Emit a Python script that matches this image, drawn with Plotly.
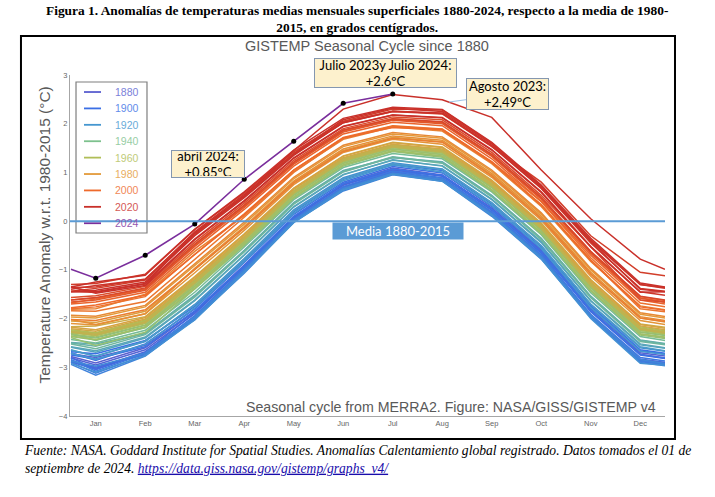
import plotly.graph_objects as go
from plotly.colors import sample_colorscale, find_intermediate_color, hex_to_rgb, label_rgb

# x positions: half-month wrap at both ends, then Jan..Dec
month_pos = [0.5, 1, 2, 3, 4, 5, 6, 7, 8, 9, 10, 11, 12, 12.5]
month_labels = ['Jan', 'Feb', 'Mar', 'Apr', 'May', 'Jun', 'Jul', 'Aug', 'Sep', 'Oct', 'Nov', 'Dec']

# anomaly values (°C, w.r.t. 1980-2015)
y1880 = [-2.78, -2.91, -2.60, -1.86, -0.95, 0.05, 0.77, 1.09, 0.95, 0.25, -0.63, -1.84, -2.73, -2.81]
y1882 = [-2.72, -2.80, -2.55, -1.85, -0.90, 0.08, 0.74, 1.05, 0.93, 0.27, -0.60, -1.80, -2.70, -2.77]
y1885 = [-2.81, -2.95, -2.64, -1.90, -0.93, 0.07, 0.74, 1.06, 0.92, 0.22, -0.66, -1.95, -2.85, -2.90]
y1887 = [-2.86, -3.02, -2.68, -1.98, -1.02, 0.00, 0.68, 1.00, 0.86, 0.16, -0.72, -1.93, -2.83, -2.90]
y1890 = [-2.89, -3.04, -2.70, -2.02, -1.00, -0.02, 0.66, 0.98, 0.84, 0.14, -0.74, -1.97, -2.86, -2.93]
y1892 = [-2.88, -3.00, -2.74, -1.96, -0.99, 0.02, 0.70, 1.01, 0.87, 0.18, -0.70, -1.95, -2.88, -2.95]
y1895 = [-2.80, -3.05, -2.70, -1.88, -0.92, 0.09, 0.76, 1.02, 0.94, 0.24, -0.64, -1.86, -2.75, -2.82]
y1897 = [-2.70, -2.86, -2.52, -1.80, -0.85, 0.14, 0.80, 1.12, 0.99, 0.30, -0.58, -1.78, -2.66, -2.73]
y1900 = [-2.68, -2.72, -2.45, -1.75, -0.80, 0.19, 0.86, 1.17, 1.04, 0.35, -0.53, -1.74, -2.64, -2.71]
y1902 = [-2.75, -2.83, -2.58, -1.84, -0.92, 0.10, 0.77, 1.07, 0.94, 0.24, -0.64, -1.83, -2.74, -2.81]
y1905 = [-2.84, -3.08, -2.72, -1.94, -0.97, 0.04, 0.71, 1.03, 0.89, 0.19, -0.69, -1.91, -2.80, -2.87]
y1907 = [-2.90, -3.12, -2.75, -1.99, -1.03, -0.01, 0.66, 0.97, 0.83, 0.13, -0.75, -1.96, -2.87, -2.94]
y1910 = [-2.94, -3.16, -2.77, -2.01, -1.07, -0.02, 0.62, 0.95, 0.82, 0.10, -0.78, -1.98, -2.90, -2.97]
y1912 = [-2.87, -2.98, -2.71, -1.97, -1.01, 0.01, 0.67, 0.99, 0.86, 0.15, -0.73, -1.94, -2.84, -2.92]
y1915 = [-2.65, -2.77, -2.47, -1.71, -0.77, 0.23, 0.89, 1.20, 1.07, 0.38, -0.50, -1.71, -2.60, -2.67]
y1917 = [-2.92, -3.10, -2.76, -2.03, -1.05, -0.03, 0.64, 0.96, 0.82, 0.12, -0.77, -2.00, -2.92, -2.96]
y1920 = [-2.71, -2.84, -2.53, -1.78, -0.83, 0.16, 0.83, 1.15, 1.01, 0.32, -0.56, -1.77, -2.67, -2.74]
y1922 = [-2.64, -2.78, -2.46, -1.72, -0.78, 0.21, 0.87, 1.18, 1.06, 0.37, -0.51, -1.70, -2.58, -2.66]
y1925 = [-2.59, -2.69, -2.40, -1.63, -0.70, 0.29, 0.95, 1.26, 1.13, 0.44, -0.44, -1.64, -2.54, -2.61]
y1927 = [-2.58, -2.66, -2.38, -1.62, -0.69, 0.30, 0.96, 1.25, 1.14, 0.45, -0.42, -1.63, -2.52, -2.60]
y1930 = [-2.49, -2.52, -2.30, -1.52, -0.60, 0.38, 1.04, 1.30, 1.22, 0.53, -0.35, -1.54, -2.44, -2.51]
y1932 = [-2.50, -2.57, -2.31, -1.54, -0.61, 0.37, 1.02, 1.32, 1.20, 0.52, -0.36, -1.55, -2.45, -2.52]
y1935 = [-2.52, -2.62, -2.33, -1.56, -0.63, 0.35, 1.01, 1.31, 1.19, 0.50, -0.38, -1.57, -2.47, -2.54]
y1937 = [-2.43, -2.50, -2.24, -1.46, -0.53, 0.44, 1.10, 1.39, 1.28, 0.60, -0.28, -1.47, -2.37, -2.45]
y1940 = [-2.30, -2.45, -2.18, -1.29, -0.39, 0.56, 1.22, 1.51, 1.40, 0.72, -0.16, -1.34, -2.24, -2.31]
y1942 = [-2.33, -2.40, -2.14, -1.34, -0.44, 0.53, 1.19, 1.48, 1.37, 0.69, -0.19, -1.37, -2.28, -2.35]
y1945 = [-2.26, -2.32, -2.06, -1.25, -0.36, 0.59, 1.25, 1.54, 1.43, 0.82, -0.05, -1.30, -2.21, -2.28]
y1947 = [-2.37, -2.44, -2.19, -1.39, -0.48, 0.49, 1.15, 1.44, 1.33, 0.64, -0.24, -1.42, -2.32, -2.39]
y1950 = [-2.39, -2.55, -2.28, -1.40, -0.50, 0.47, 1.13, 1.43, 1.31, 0.62, -0.26, -1.44, -2.34, -2.41]
y1952 = [-2.32, -2.38, -2.13, -1.33, -0.43, 0.54, 1.19, 1.48, 1.37, 0.69, -0.19, -1.36, -2.27, -2.34]
y1955 = [-2.36, -2.43, -2.17, -1.37, -0.46, 0.50, 1.16, 1.45, 1.34, 0.65, -0.23, -1.41, -2.31, -2.38]
y1957 = [-2.29, -2.35, -2.10, -1.30, -0.40, 0.56, 1.22, 1.51, 1.40, 0.72, -0.16, -1.33, -2.24, -2.31]
y1960 = [-2.23, -2.29, -2.03, -1.21, -0.33, 0.62, 1.28, 1.57, 1.46, 0.78, -0.10, -1.27, -2.17, -2.25]
y1962 = [-2.25, -2.30, -2.05, -1.23, -0.35, 0.61, 1.27, 1.55, 1.45, 0.76, -0.12, -1.29, -2.19, -2.27]
y1965 = [-2.28, -2.34, -2.08, -1.27, -0.38, 0.58, 1.24, 1.52, 1.42, 0.73, -0.15, -1.32, -2.22, -2.30]
y1967 = [-2.27, -2.32, -2.07, -1.25, -0.36, 0.60, 1.26, 1.54, 1.44, 0.75, -0.13, -1.30, -2.21, -2.28]
y1970 = [-2.17, -2.15, -1.96, -1.14, -0.26, 0.68, 1.34, 1.62, 1.52, 0.84, -0.04, -1.20, -2.11, -2.18]
y1972 = [-2.21, -2.26, -2.01, -1.19, -0.31, 0.65, 1.30, 1.58, 1.48, 0.80, -0.08, -1.25, -2.15, -2.23]
y1975 = [-2.18, -2.23, -1.98, -1.16, -0.28, 0.67, 1.33, 1.61, 1.51, 0.82, -0.06, -1.22, -2.12, -2.20]
y1977 = [-2.05, -2.08, -1.85, -1.00, -0.14, 0.80, 1.45, 1.72, 1.63, 0.95, 0.07, -1.08, -1.99, -2.07]
y1980 = [-1.97, -1.99, -1.76, -0.91, -0.06, 0.87, 1.53, 1.79, 1.70, 1.02, 0.14, -1.00, -1.91, -1.99]
y1982 = [-2.10, -2.13, -1.90, -1.06, -0.19, 0.75, 1.41, 1.68, 1.58, 0.90, 0.02, -1.13, -2.04, -2.12]
y1985 = [-2.02, -2.12, -1.90, -0.97, -0.11, 0.82, 1.48, 1.75, 1.66, 0.98, 0.10, -1.05, -1.96, -2.04]
y1987 = [-1.93, -1.95, -1.73, -0.88, -0.02, 0.90, 1.56, 1.82, 1.73, 1.05, 0.17, -0.97, -1.88, -1.96]
y1990 = [-1.81, -1.80, -1.50, -0.62, 0.11, 1.02, 1.68, 1.93, 1.85, 1.18, 0.30, -0.83, -1.74, -1.82]
y1992 = [-2.02, -2.04, -1.82, -0.99, -0.14, 0.78, 1.43, 1.70, 1.62, 0.93, 0.05, -1.09, -1.99, -2.06]
y1995 = [-1.84, -1.85, -1.65, -0.78, 0.08, 1.00, 1.70, 1.95, 1.88, 1.20, 0.34, -0.80, -1.80, -1.86]
y1997 = [-1.80, -1.76, -1.55, -0.68, 0.13, 1.05, 1.72, 1.96, 1.89, 1.22, 0.40, -0.75, -1.68, -1.76]
y1998 = [-1.68, -1.60, -1.40, -0.50, 0.30, 1.20, 1.85, 2.08, 2.02, 1.34, 0.46, -0.65, -1.58, -1.66]
y2000 = [-1.78, -1.72, -1.52, -0.68, 0.15, 1.05, 1.71, 1.92, 1.88, 1.21, 0.33, -0.80, -1.76, -1.83]
y2002 = [-1.70, -1.66, -1.46, -0.57, 0.24, 1.13, 1.79, 2.03, 1.96, 1.28, 0.41, -0.70, -1.62, -1.70]
y2005 = [-1.62, -1.58, -1.39, -0.49, 0.32, 1.20, 1.86, 2.10, 2.03, 1.36, 0.48, -0.63, -1.55, -1.63]
y2007 = [-1.66, -1.62, -1.42, -0.52, 0.28, 1.17, 1.83, 2.07, 2.00, 1.33, 0.45, -0.66, -1.58, -1.66]
y2010 = [-1.57, -1.53, -1.34, -0.43, 0.37, 1.25, 1.90, 2.14, 2.08, 1.41, 0.53, -0.52, -1.62, -1.66]
y2012 = [-1.62, -1.57, -1.37, -0.47, 0.33, 1.21, 1.87, 2.10, 2.04, 1.37, 0.49, -0.62, -1.54, -1.62]
y2015 = [-1.44, -1.38, -1.21, -0.28, 0.50, 1.37, 2.02, 2.25, 2.20, 1.53, 0.80, -0.30, -1.05, -1.12]
y2016 = [-1.30, -1.28, -1.09, -0.17, 0.58, 1.42, 2.05, 2.30, 2.28, 1.60, 0.70, -0.38, -1.30, -1.36]
y2017 = [-1.36, -1.35, -1.19, -0.25, 0.52, 1.39, 2.03, 2.26, 2.21, 1.54, 0.67, -0.45, -1.38, -1.44]
y2018 = [-1.44, -1.46, -1.29, -0.37, 0.42, 1.30, 1.95, 2.18, 2.13, 1.47, 0.60, -0.52, -1.45, -1.52]
y2019 = [-1.40, -1.32, -1.20, -0.22, 0.55, 1.38, 2.08, 2.32, 2.25, 1.58, 0.72, -0.40, -1.30, -1.38]
y2020 = [-1.35, -1.25, -1.11, -0.17, 0.60, 1.46, 2.11, 2.34, 2.29, 1.62, 0.74, -0.35, -1.27, -1.35]
y2021 = [-1.35, -1.48, -1.32, -0.38, 0.41, 1.29, 1.94, 2.18, 2.12, 1.46, 0.59, -0.53, -1.46, -1.45]
y2022 = [-1.45, -1.42, -1.25, -0.30, 0.48, 1.35, 2.02, 2.25, 2.22, 1.55, 0.68, -0.42, -1.40, -1.45]
y2023 = [-1.45, -1.45, -1.28, -0.25, 0.52, 1.45, 2.30, 2.60, 2.49, 2.13, 1.05, 0.05, -0.78, -0.99]
y2024 = [-0.99, -1.17, -0.70, -0.06, 0.86, 1.64, 2.42, 2.61]

years = [1880, 1882, 1885, 1887, 1890, 1892, 1895, 1897, 1900, 1902, 1905, 1907, 1910, 1912,
         1915, 1917, 1920, 1922, 1925, 1927, 1930, 1932, 1935, 1937, 1940, 1942, 1945, 1947,
         1950, 1952, 1955, 1957, 1960, 1962, 1965, 1967, 1970, 1972, 1975, 1977, 1980, 1982,
         1985, 1987, 1990, 1992, 1995, 1997, 1998, 2000, 2002, 2005, 2007, 2010, 2012, 2015,
         2016, 2017, 2018, 2019, 2020, 2021, 2022, 2023]
series = [y1880, y1882, y1885, y1887, y1890, y1892, y1895, y1897, y1900, y1902, y1905, y1907, y1910, y1912,
          y1915, y1917, y1920, y1922, y1925, y1927, y1930, y1932, y1935, y1937, y1940, y1942, y1945, y1947,
          y1950, y1952, y1955, y1957, y1960, y1962, y1965, y1967, y1970, y1972, y1975, y1977, y1980, y1982,
          y1985, y1987, y1990, y1992, y1995, y1997, y1998, y2000, y2002, y2005, y2007, y2010, y2012, y2015,
          y2016, y2017, y2018, y2019, y2020, y2021, y2022, y2023]

legend_years = [1880, 1900, 1920, 1940, 1960, 1980, 2000, 2020]
legend_colors = ['#5a5fcf', '#3b6fe5', '#4597d0', '#7dc18d', '#b0be58', '#e39a3a', '#ee6a2c', '#c9302a']
color_2024 = '#7a2e9c'
media_value = 0
media_label = 'Media 1880-2015'

colorscale = [[(yr - 1880) / (2020 - 1880), c] for yr, c in zip(legend_years, legend_colors)]


def year_color(yr):
    t = min(max((yr - 1880) / (2020 - 1880), 0), 1)
    return sample_colorscale(colorscale, [t])[0]


def pale(c, amount=0.25):
    rgb = hex_to_rgb(c) if c.startswith('#') else tuple(float(v) for v in c[4:-1].split(','))
    return label_rgb(find_intermediate_color(rgb, (255, 255, 255), amount))


fig = go.Figure()

for yr, vals in zip(years, series):
    fig.add_trace(go.Scatter(
        x=month_pos, y=vals, mode='lines', line=dict(color=year_color(yr), width=1.5),
        showlegend=False, hoverinfo='skip'))

fig.add_trace(go.Scatter(
    x=month_pos[:len(y2024)], y=y2024, mode='lines',
    line=dict(color=color_2024, width=1.6), showlegend=False, hoverinfo='skip'))
fig.add_trace(go.Scatter(
    x=month_pos[1:len(y2024)], y=y2024[1:], mode='markers',
    marker=dict(color='black', size=5), showlegend=False, hoverinfo='skip'))

grey = '#595959'
box = dict(bgcolor='#fdf1cd', bordercolor='#8497b0', borderwidth=1,
           font=dict(family='Lato', size=13, color='black'), showarrow=False)

annotations = [
    dict(text='<b>Figura 1. Anomalías de temperaturas medias mensuales superficiales 1880-2024, '
              'respecto a la media de 1980-<br>2015, en grados centígrados.</b>',
         xref='paper', yref='paper', x=0.482, y=1.163, yanchor='middle', showarrow=False,
         font=dict(family='Liberation Serif', size=13.4, color='black')),
    dict(text='GISTEMP Seasonal Cycle since 1880', xref='paper', yref='paper',
         x=0.499, y=1.084, yanchor='middle', showarrow=False,
         font=dict(family='Arial', size=14.5, color=grey)),
    dict(text='Seasonal cycle from MERRA2. Figure: NASA/GISS/GISTEMP v4', xref='paper', yref='paper',
         x=0.988, xanchor='right', y=0.025, yanchor='middle', showarrow=False,
         font=dict(family='Arial', size=14.2, color=grey)),
    dict(text='Temperature Anomaly w.r.t. 1980-2015 (°C)', xref='paper', yref='paper',
         x=-0.042, xanchor='center', y=0.529, yanchor='middle', textangle=-90, showarrow=False,
         font=dict(family='Arial', size=15.5, color=grey)),
    dict(text='<i>Fuente: NASA. Goddard Institute for Spatial Studies. Anomalías Calentamiento global '
              'registrado. Datos tomados el 01 de<br>septiembre de 2024. '
              "<a href='https://data.giss.nasa.gov/gistemp/graphs_v4/' "
              "style='color:#1a0dab;text-decoration:underline'>https://data.giss.nasa.gov/gistemp/graphs_v4/</a></i>",
         xref='paper', yref='paper', x=-0.081, xanchor='left', y=-0.129, yanchor='middle',
         align='left', showarrow=False,
         font=dict(family='Liberation Serif', size=13.6, color='black')),
    dict(text=media_label, x=7.11, y=-0.20, width=128, height=14, bgcolor='#5b9bd5',
         showarrow=False, font=dict(family='Lato', size=13, color='white')),
    dict(box, text='abril 2024:<br>+0,85ºC', x=3.27, y=1.17, width=70, height=24),
    dict(box, text='Julio 2023y Julio 2024:<br>+2,6ºC', x=6.85, y=2.9, yshift=6.5, width=139, height=26),
    dict(box, text='Agosto 2023:<br>+2,49ºC', x=8.137, y=2.445, width=79, height=28,
         showarrow=True, arrowhead=0, arrowwidth=1, arrowcolor='#9dc3e6', ax=58, ay=-8),
]

# hand-drawn legend box (paper coordinates)
shapes = [dict(type='rect', xref='paper', yref='paper', x0=0.0101, x1=0.1294, y0=0.5367, y1=0.9795,
               line=dict(color='#7f7f7f', width=1.2))]
leg_top, leg_step = 0.9501, 0.0481
for i, (yr, col) in enumerate(list(zip(legend_years, legend_colors)) + [(2024, color_2024)]):
    yy = leg_top - i * leg_step
    shapes.append(dict(type='line', xref='paper', yref='paper', x0=0.0235, x1=0.0521, y0=yy, y1=yy,
                       line=dict(color=col, width=1.8)))
    annotations.append(dict(text=str(yr), xref='paper', yref='paper', x=0.0723, xanchor='left',
                            y=yy, yanchor='middle', showarrow=False,
                            font=dict(family='Arial', size=10.5, color=pale(col, 0.2))))

shapes.append(dict(type='rect', xref='paper', yref='paper', x0=-0.0824, x1=1.0168,
                   y0=-0.0674, y1=1.1144, line=dict(color='black', width=2)))

fig.update_layout(
    width=715, height=497,
    margin=dict(l=70, r=50, t=75, b=81),
    paper_bgcolor='white', plot_bgcolor='white', showlegend=False,
    annotations=annotations, shapes=shapes,
    xaxis=dict(range=[0.48, 12.5], tickvals=list(range(1, 13)), ticktext=month_labels,
               tickfont=dict(family='Arial', size=7.5, color='#666'), showgrid=False,
               zeroline=False, showline=True, linecolor='#a6a6a6', linewidth=1.2),
    yaxis=dict(range=[-4, 3], dtick=1, tickfont=dict(family='Arial', size=7.5, color='#666'),
               showgrid=False, zeroline=False, showline=True, linecolor='#a6a6a6', linewidth=1.2),
)

fig.add_hline(y=media_value, line=dict(color='#5b9bd5', width=2))

fig.write_html('out.html', config={'displayModeBar': False},
               post_script="document.body.style.margin='0';")
